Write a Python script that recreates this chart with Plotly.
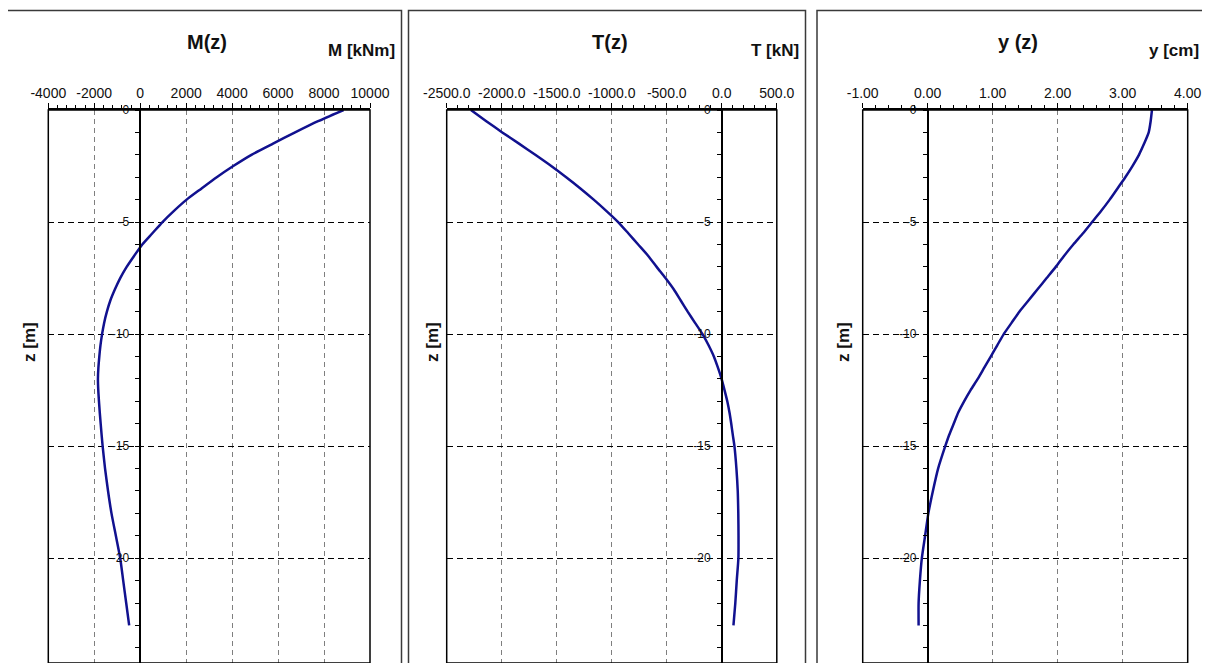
import plotly.graph_objects as go

# ---- data ----
z_m = [0, -0.5, -1, -1.5, -2, -2.5, -3, -3.5, -4, -4.5, -5, -5.5, -6, -6.5, -7, -7.5,
       -8, -8.5, -9, -9.5, -10, -10.5, -11, -11.5, -12, -12.5, -13, -13.5, -14, -14.5,
       -15, -16, -17, -18, -19, -20, -21, -22, -23]

moment_kNm = [8850, 7740, 6740, 5780, 4840, 4050, 3330, 2670, 2020, 1470, 970, 530, 90, -260,
              -590, -870, -1100, -1300, -1450, -1570, -1660, -1730, -1780, -1820, -1840,
              -1825, -1795, -1760, -1720, -1680, -1635, -1530, -1400, -1250, -1060, -870,
              -740, -610, -480]

shear_kN = [-2280, -2140, -1995, -1843, -1695, -1550, -1414, -1285, -1164, -1050, -942, -850,
            -760, -670, -592, -512, -437, -373, -310, -243, -175, -120, -72, -35, -2, 25, 50,
            70, 86, 100, 115, 133, 145, 150, 152, 151, 136, 123, 106]

disp_cm = [3.45, 3.43, 3.40, 3.33, 3.25, 3.15, 3.04, 2.92, 2.80, 2.67, 2.53, 2.39, 2.24, 2.10,
           1.97, 1.83, 1.69, 1.55, 1.41, 1.29, 1.17, 1.07, 0.97, 0.87, 0.77, 0.66, 0.56, 0.47,
           0.40, 0.33, 0.27, 0.16, 0.08, 0.01, -0.04, -0.09, -0.12, -0.14, -0.14]

titles = ["M(z)", "T(z)", "y (z)"]
unit_labels = ["M [kNm]", "T [kN]", "y [cm]"]
depth_label = "z [m]"

m_ticks = [-4000, -2000, 0, 2000, 4000, 6000, 8000, 10000]
m_ticktext = ["-4000", "-2000", "0", "2000", "4000", "6000", "8000", "10000"]
t_ticks = [-2500, -2000, -1500, -1000, -500, 0, 500]
t_ticktext = ["-2500.0", "-2000.0", "-1500.0", "-1000.0", "-500.0", "0.0", "500.0"]
y_ticks = [-1, 0, 1, 2, 3, 4]
y_ticktext = ["-1.00", "0.00", "1.00", "2.00", "3.00", "4.00"]
z_ticks = [0, -5, -10, -15, -20, -25]
z_ticktext = ["0", "-5", "-10", "-15", "-20", "-25"]

x_tickvals = [m_ticks, t_ticks, y_ticks]
x_ticktexts = [m_ticktext, t_ticktext, y_ticktext]
x_minor = [400, 100, 0.2]

# ---- layout geometry (window pixels; the page body adds an 8px margin) ----
OFF = 8
W, H = 1210 - 2 * OFF, 671 - 2 * OFF


def PX(px):
    return (px - OFF) / W


def PY(py):
    return 1 - (py - OFF) / H


px_x = [(48.3, 370.0), (446.7, 776.8), (862.7, 1187.7)]
px_top = 110.0
px_per_m = 22.41
px_bot = OFF + H                      # lowest visible pixel row of the figure
z_bottom = -(px_bot - px_top) / px_per_m
z_range = [z_bottom, 0]

panel_box = [(5.5, 401.5), (408.5, 805.5), (817.0, 1215.0)]
title_x = [207, 610, 1018]
unit_right = [397, 801, 1201]
zlabel_x = [29, 432, 843]

FONT = "Liberation Sans, Arial, sans-serif"
LINE_COLOR = "#11118f"

fig = go.Figure()
layout = dict(width=W, height=H, autosize=False,
              margin=dict(l=0, r=0, t=0, b=0, pad=0, autoexpand=False),
              paper_bgcolor="white", plot_bgcolor="white", showlegend=False,
              font=dict(family=FONT, color="#111"))
shapes, annots = [], []
ydom = [0.0, PY(px_top)]

series = [moment_kNm, shear_kN, disp_cm]
for i in range(3):
    sx = "" if i == 0 else str(i + 1)
    xd = [PX(px_x[i][0]), PX(px_x[i][1])]
    r = [x_tickvals[i][0], x_tickvals[i][-1]]
    zero_frac = (0 - r[0]) / (r[1] - r[0])
    zero_pos = xd[0] + zero_frac * (xd[1] - xd[0])

    fig.add_trace(go.Scatter(x=series[i], y=z_m, mode="lines",
                             line=dict(color=LINE_COLOR, width=2.5, shape="spline",
                                       smoothing=0.6),
                             xaxis="x" + sx, yaxis="y" + sx, hoverinfo="x+y"))

    layout["xaxis" + sx] = dict(
        domain=xd, range=r, side="top", anchor="y" + sx, automargin=False,
        tickmode="array", tickvals=x_tickvals[i], ticktext=x_ticktexts[i], tickangle=0,
        ticks="outside", ticklen=5, tickcolor="black", tickwidth=1,
        minor=dict(dtick=x_minor[i], tick0=0, ticks="outside", ticklen=3,
                   tickcolor="black", showgrid=False),
        showgrid=True, gridcolor="#7f7f7f", griddash="5px,4px", gridwidth=1,
        zeroline=False, showline=True, linecolor="black", linewidth=1.5, mirror=True,
        tickfont=dict(size=14, color="#111", family=FONT), ticklabelstandoff=0,
        fixedrange=True)
    layout["yaxis" + sx] = dict(
        domain=ydom, range=z_range, anchor="free", position=zero_pos, side="left",
        automargin=False,
        tickmode="array", tickvals=z_ticks, ticktext=z_ticktext,
        ticks="outside", ticklen=4, tickcolor="black",
        minor=dict(dtick=1, tick0=0, ticks="outside", ticklen=4,
                   tickcolor="black", showgrid=False),
        showgrid=True, gridcolor="black", griddash="6px,4px", gridwidth=1,
        zeroline=False, showline=True, linecolor="black", linewidth=1.5,
        tickfont=dict(size=12, color="#111", family=FONT), ticklabelstandoff=4,
        fixedrange=True)

    # plot-area box
    shapes.append(dict(type="rect", xref="x" + sx + " domain", yref="y" + sx + " domain",
                       x0=0, x1=1, y0=0, y1=1, line=dict(color="black", width=1.5),
                       layer="above"))
    # panel frame
    shapes.append(dict(type="rect", xref="paper", yref="paper",
                       x0=PX(panel_box[i][0]), x1=PX(panel_box[i][1]),
                       y0=-0.2, y1=PY(10.5),
                       line=dict(color="#3a3a3a", width=1.5), layer="below"))

    annots.append(dict(text="<b>" + titles[i] + "</b>", xref="paper", yref="paper",
                       x=PX(title_x[i]), y=PY(42), xanchor="center", yanchor="middle",
                       showarrow=False, font=dict(size=20, color="#111", family=FONT)))
    annots.append(dict(text="<b>" + unit_labels[i] + "</b>", xref="paper", yref="paper",
                       x=PX(unit_right[i]), y=PY(50), xanchor="right", yanchor="middle",
                       showarrow=False, font=dict(size=17, color="#111", family=FONT)))
    annots.append(dict(text="<b>" + depth_label + "</b>", xref="paper", yref="paper",
                       x=PX(zlabel_x[i]), y=PY(342), xanchor="center", yanchor="middle",
                       textangle=-90, showarrow=False,
                       font=dict(size=17, color="#111", family=FONT)))

layout["shapes"] = shapes
layout["annotations"] = annots
fig.update_layout(**layout)
fig.write_html("out.html")
